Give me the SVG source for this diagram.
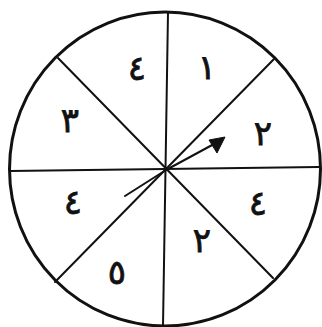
<svg xmlns="http://www.w3.org/2000/svg" width="322" height="327" viewBox="0 0 322 327">
<style>
.lbl{font-family:"DejaVu Sans",sans-serif;font-size:34px;fill:#111;text-anchor:middle;dominant-baseline:central;stroke:#111;stroke-width:0.8}
.ln{stroke:#111;stroke-width:2;fill:none;stroke-linecap:round}
</style>
<rect width="322" height="327" fill="#fff"/>
<g id="wheel">
<ellipse cx="165" cy="169" rx="155.5" ry="157" fill="none" stroke="#111" stroke-width="3"/>
</g>
<g id="connectors">
<line class="ln" x1="168" y1="12" x2="163" y2="326"/>
<line class="ln" x1="10" y1="171" x2="319" y2="167"/>
<line class="ln" x1="58" y1="58" x2="273" y2="278"/>
<line class="ln" x1="275" y1="58" x2="55" y2="282"/>
<line class="ln" x1="125" y1="196" x2="166" y2="170" stroke-width="2.5"/>
<line class="ln" x1="166" y1="170" x2="214" y2="144" stroke-width="2.5"/>
<polygon points="225,137 209,140 217,153" fill="#111" stroke="#111" stroke-width="1" stroke-linejoin="round"/>
</g>
<g id="s1"><text class="lbl" x="207" y="67">١</text></g>
<g id="s2"><text class="lbl" x="263" y="133">٢</text></g>
<g id="s3"><text class="lbl" x="258" y="203">٤</text></g>
<g id="s4"><text class="lbl" x="202" y="240">٢</text></g>
<g id="s5"><text class="lbl" x="117" y="272">٥</text></g>
<g id="s6"><text class="lbl" x="73" y="202">٤</text></g>
<g id="s7"><text class="lbl" x="70" y="120">٣</text></g>
<g id="s8"><text class="lbl" x="137" y="68">٤</text></g>
</svg>
